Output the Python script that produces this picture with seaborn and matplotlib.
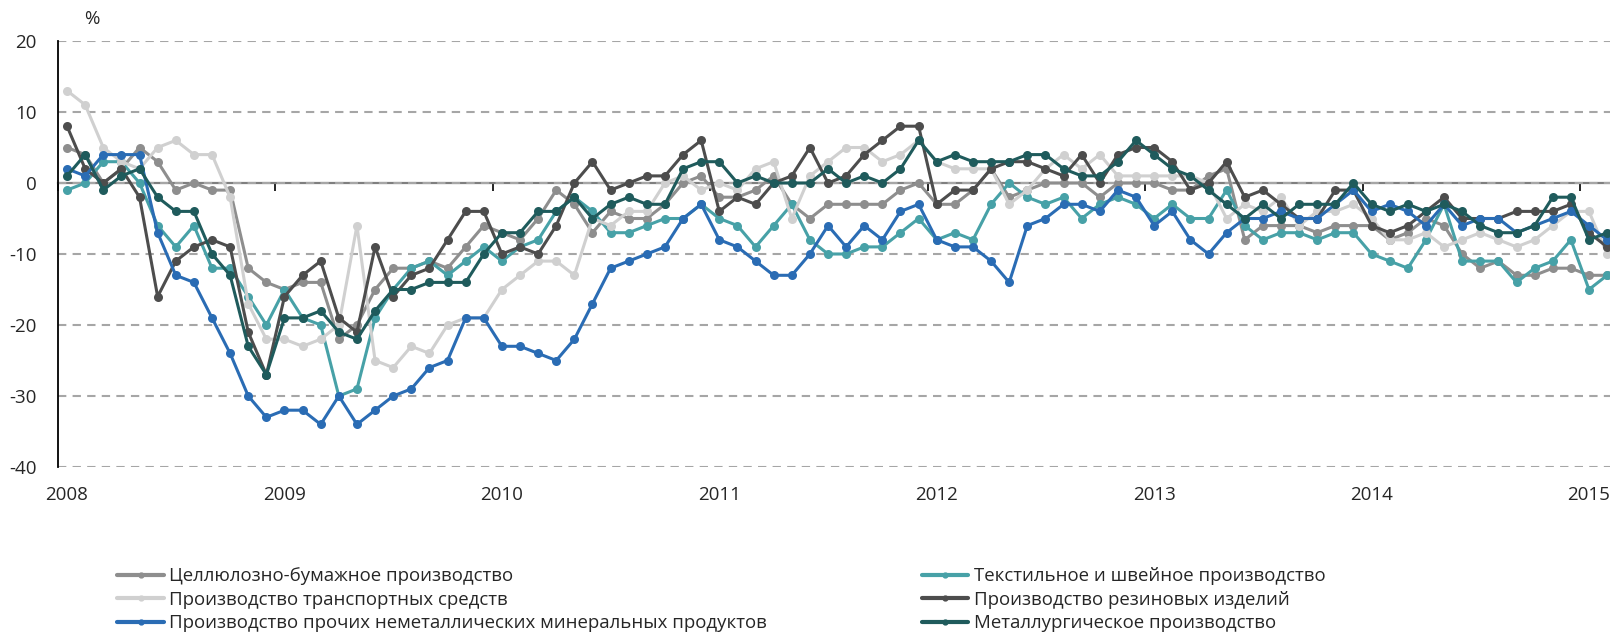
import numpy as np
import pandas as pd
import matplotlib
matplotlib.use('Agg')
import matplotlib.pyplot as plt
from matplotlib.lines import Line2D
import seaborn as sns

# monthly values, Jan 2008 - Feb 2015, %
years = ['2008', '2009', '2010', '2011', '2012', '2013', '2014', '2015']

pulp = [5, 4, 0, 2, 5, 3, -1, 0, -1, -1, -12, -14, -15,
        -14, -14, -22, -20, -15, -12, -12, -11, -12, -9, -6, -7,
        -8, -5, -1, -3, -7, -4, -5, -5, -3, 0, 1, -2,
        -2, -1, 1, -3, -5, -3, -3, -3, -3, -1, 0, -3,
        -3, -1, 2, -2, -1, 0, 0, 0, -2, 0, 0, 0,
        -1, -1, 1, 2, -8, -6, -6, -6, -7, -6, -6, -6,
        -8, -7, -5, -6, -10, -12, -11, -13, -13, -12, -12, -13, -13]

transport = [13, 11, 5, 3, 2, 5, 6, 4, 4, -2, -17, -22, -22,
             -23, -22, -20, -6, -25, -26, -23, -24, -20, -19, -19, -15,
             -13, -11, -11, -13, -5, -6, -4, -4, 0, 1, -1, 0,
             -1, 2, 3, -5, 1, 3, 5, 5, 3, 4, 6, 3,
             2, 2, 2, -3, -1, 2, 4, 2, 4, 1, 1, 1,
             1, 1, 0, -5, -3, -4, -2, -6, -4, -4, -3, -5,
             -8, -8, -7, -9, -8, -7, -8, -9, -8, -6, -4, -4, -10]

nonmetal = [2, 1, 4, 4, 4, -7, -13, -14, -19, -24, -30, -33, -32,
            -32, -34, -30, -34, -32, -30, -29, -26, -25, -19, -19, -23,
            -23, -24, -25, -22, -17, -12, -11, -10, -9, -5, -3, -8,
            -9, -11, -13, -13, -10, -6, -9, -6, -8, -4, -3, -8,
            -9, -9, -11, -14, -6, -5, -3, -3, -4, -1, -2, -6,
            -4, -8, -10, -7, -5, -5, -4, -5, -5, -3, -1, -4,
            -3, -4, -6, -3, -6, -5, -5, -7, -6, -5, -4, -6, -8]

textile = [-1, 0, 3, 3, 0, -6, -9, -6, -12, -12, -16, -20, -15,
           -19, -20, -30, -29, -19, -15, -12, -11, -13, -11, -9, -11,
           -9, -8, -4, -2, -4, -7, -7, -6, -5, -5, -3, -5,
           -6, -9, -6, -3, -8, -10, -10, -9, -9, -7, -5, -8,
           -7, -8, -3, 0, -2, -3, -2, -5, -3, -2, -3, -5,
           -3, -5, -5, -1, -6, -8, -7, -7, -8, -7, -7, -10,
           -11, -12, -8, -3, -11, -11, -11, -14, -12, -11, -8, -15, -13]

rubber = [8, 2, 0, 2, -2, -16, -11, -9, -8, -9, -21, -27, -16,
          -13, -11, -19, -21, -9, -16, -13, -12, -8, -4, -4, -10,
          -9, -10, -6, 0, 3, -1, 0, 1, 1, 4, 6, -4,
          -2, -3, 0, 1, 5, 0, 1, 4, 6, 8, 8, -3,
          -1, -1, 2, 3, 3, 2, 1, 4, 0, 4, 5, 5,
          3, -1, 0, 3, -2, -1, -3, -5, -5, -1, -1, -6,
          -7, -6, -4, -2, -5, -5, -5, -4, -4, -4, -3, -7, -9]

metallurgy = [1, 4, -1, 1, 2, -2, -4, -4, -10, -13, -23, -27, -19,
              -19, -18, -21, -22, -18, -15, -15, -14, -14, -14, -10, -7,
              -7, -4, -4, -2, -5, -3, -2, -3, -3, 2, 3, 3,
              0, 1, 0, 0, 0, 2, 0, 1, 0, 2, 6, 3,
              4, 3, 3, 3, 4, 4, 2, 1, 1, 3, 6, 4,
              2, 1, -1, -3, -5, -3, -5, -3, -3, -3, 0, -3,
              -4, -3, -4, -3, -4, -6, -7, -7, -6, -2, -2, -8, -7]

names = ['Целлюлозно-бумажное производство',
         'Текстильное и швейное производство',
         'Производство транспортных средств',
         'Производство резиновых изделий',
         'Производство прочих неметаллических минеральных продуктов',
         'Металлургическое производство']
values = [pulp, textile, transport, rubber, nonmetal, metallurgy]
colors = ['#8e8e8e', '#47a1a7', '#d0d0d0', '#4d4d4d', '#2a6cb4', '#1f5b5c']
palette = dict(zip(names, colors))

# long format for seaborn
frames = []
for name, vals in zip(names, values):
    frames.append(pd.DataFrame({'month': np.arange(len(vals)) + 0.5,
                                'value': vals, 'series': name}))
df = pd.concat(frames, ignore_index=True)

sns.set_style('white')
plt.rcParams['font.family'] = ['Open Sans', 'DejaVu Sans']
plt.rcParams['axes.unicode_minus'] = False

fig = plt.figure(figsize=(16.1, 6.36), dpi=100)
ax = fig.add_axes([58 / 1610, 1 - 467 / 636, 1 - 58 / 1610, 426 / 636])

sns.lineplot(data=df, x='month', y='value', hue='series', hue_order=names,
             palette=palette, marker='o', markersize=6.5, markeredgewidth=0,
             linewidth=2.2, legend=False, ax=ax)

# y axis
ymin, ymax = -40, 20
ax.set_ylim(ymin, ymax)
ax.set_yticks(range(ymin, ymax + 1, 10))
ax.yaxis.grid(True, linestyle=(0, (4, 3)), color='#a6a6a6', linewidth=1.5)
ax.set_axisbelow(True)
ax.tick_params(axis='y', direction='out', length=5, width=1.2, color='black',
               labelsize=13.5, pad=10.5)
ax.spines['left'].set_color('black')
ax.spines['left'].set_linewidth(1.3)
for side in ['top', 'right', 'bottom']:
    ax.spines[side].set_visible(False)
ax.set_ylabel('')
ax.set_xlabel('')

# year labels at the bottom, centred on January
year_pos = np.arange(len(years)) * 12
ax.set_xlim(0, 85.66)
ax.set_xticks(year_pos + 0.5)
ax.set_xticklabels(years)
ax.tick_params(axis='x', length=0, labelsize=13.5, pad=14)

# category axis line at zero with year tick marks pointing down
zero = ax.secondary_xaxis((0 - ymin) / (ymax - ymin))
zero.set_alignment('bottom')
zero.set_xticks(year_pos)
zero.set_xticklabels([])
zero.tick_params(direction='out', length=6, width=1.2, color='black')
zero.spines['bottom'].set_color('#7f7f7f')
zero.spines['bottom'].set_linewidth(1.6)

fig.text(92 / 1610, 1 - 19.5 / 636, '%', ha='center', va='center', fontsize=13.5)

# legend: column-major order
order = [0, 2, 4, 1, 3, 5]
handles = [Line2D([], [], color=colors[i], lw=3, marker='o', markersize=3.5)
           for i in order]
labels = [names[i] for i in order]
fig.legend(handles, labels, ncol=2, loc='upper left',
           bbox_to_anchor=(108 / 1610, 1 - 558 / 636), frameon=False,
           fontsize=13.4, handlelength=2.5, handletextpad=0.3,
           columnspacing=8.3, labelspacing=0.3, borderpad=0)

fig.savefig('out.png', dpi=100)
